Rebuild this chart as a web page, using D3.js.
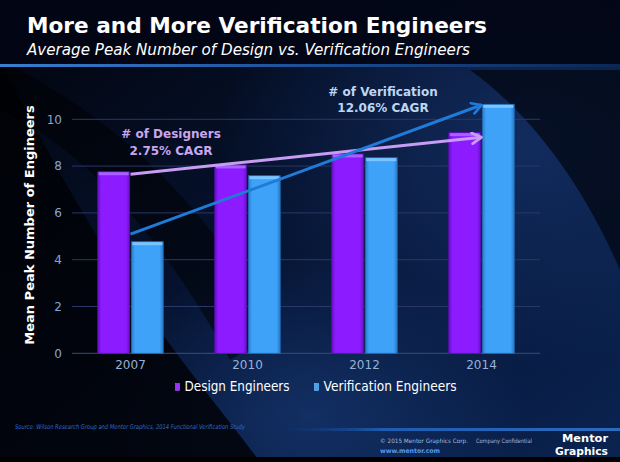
<!DOCTYPE html>
<html><head><meta charset="utf-8">
<script src="https://cdn.jsdelivr.net/npm/d3@7/dist/d3.min.js"></script>
<style>html,body{margin:0;padding:0;background:#02050f;}svg{display:block;}</style>
</head><body>
<script>
const years = ["2007", "2010", "2012", "2014"];
const seriesNames = ["Design Engineers", "Verification Engineers"];
const designValues = [7.76, 8.05, 8.52, 9.43];
const verificationValues = [4.77, 7.59, 8.36, 10.64];
const yTicks = [0, 2, 4, 6, 8, 10];
const designTrend = [7.65, 9.23];      // arrow start (2007) / end (2014)
const verificationTrend = [5.09, 10.61];
const designNote = ["# of Designers", "2.75% CAGR"];
const verificationNote = ["# of Verification", "12.06% CAGR"];

const W = 620, H = 462;
const svg = d3.select("body").append("svg").attr("width", W).attr("height", H);
const defs = svg.append("defs");

// background
const bg = defs.append("linearGradient").attr("id","bg").attr("x1",0).attr("y1",0).attr("x2",1).attr("y2",1);
bg.append("stop").attr("offset",0).attr("stop-color","#02040c");
bg.append("stop").attr("offset",0.55).attr("stop-color","#061535");
bg.append("stop").attr("offset",1).attr("stop-color","#0a2350");
svg.append("rect").attr("width",W).attr("height",H).attr("fill","url(#bg)");
const rg = defs.append("radialGradient").attr("id","glow").attr("cx",0.85).attr("cy",0.3).attr("r",0.5);
rg.append("stop").attr("offset",0).attr("stop-color","#1a3a78").attr("stop-opacity",0.6);
rg.append("stop").attr("offset",1).attr("stop-color","#1a3a78").attr("stop-opacity",0);
svg.append("rect").attr("width",W).attr("height",H).attr("fill","url(#glow)");
const rg2 = defs.append("radialGradient").attr("id","glow2").attr("cx",0.5).attr("cy",0.9).attr("r",0.35);
rg2.append("stop").attr("offset",0).attr("stop-color","#173873").attr("stop-opacity",0.7);
rg2.append("stop").attr("offset",1).attr("stop-color","#173873").attr("stop-opacity",0);
svg.append("rect").attr("width",W).attr("height",H).attr("fill","url(#glow2)");
// dark swooshes
svg.append("path").attr("d","M0,60 L0,462 L260,462 C200,380 120,300 0,60Z").attr("fill","#010207").attr("opacity",0.85);
svg.append("path").attr("d","M470,70 C540,120 590,200 620,270 L620,70Z").attr("fill","#01040d").attr("opacity",0.7);
svg.append("path").attr("d","M0,60 C120,120 200,200 280,330 L230,360 C170,250 90,150 0,110Z").attr("fill","#000000").attr("opacity",0.5);

// header
svg.append("rect").attr("x",0).attr("y",0).attr("width",W).attr("height",64).attr("fill","#020614").attr("opacity",0.9);
const hl = defs.append("linearGradient").attr("id","hl");
hl.append("stop").attr("offset",0).attr("stop-color","#3a7fd0");
hl.append("stop").attr("offset",0.5).attr("stop-color","#1c4f96");
hl.append("stop").attr("offset",1).attr("stop-color","#0b2755");
svg.append("rect").attr("x",0).attr("y",64).attr("width",W).attr("height",3).attr("fill","url(#hl)");
svg.append("text").attr("x",27).attr("y",33).text("More and More Verification Engineers")
  .attr("font-family","DejaVu Sans").attr("font-weight","bold").attr("font-size",22).attr("fill","#ffffff")
  .attr("textLength",460).attr("lengthAdjust","spacingAndGlyphs");
svg.append("text").attr("x",27).attr("y",55).text("Average Peak Number of Design vs. Verification Engineers")
  .attr("font-family","DejaVu Sans").attr("font-style","italic").attr("font-size",16).attr("fill","#ffffff")
  .attr("textLength",443).attr("lengthAdjust","spacingAndGlyphs");

// scales
const x0 = d3.scaleBand().domain(years).range([72,540]).paddingInner(0.44).paddingOuter(0.22);
const x1 = d3.scaleBand().domain(seriesNames).range([0,x0.bandwidth()]).paddingInner(0.05);
const y = d3.scaleLinear().domain([0,10]).range([353.3,119.3]);

// grid
const grid = svg.append("g");
grid.selectAll("line").data(yTicks).join("line")
  .attr("x1",72).attr("x2",540).attr("y1",d=>y(d)).attr("y2",d=>y(d))
  .attr("stroke",d=>d===0?"#3a4a80":"#2b3768").attr("stroke-width",1);
// y axis labels
const yAxis = d3.axisLeft(y).tickValues(yTicks).tickSize(0).tickPadding(0).tickFormat(d3.format("d"));
const ya = svg.append("g").attr("transform","translate(62,0)").call(yAxis);
ya.select(".domain").remove();
ya.selectAll("text").attr("font-family","DejaVu Sans").attr("font-size",12).attr("fill","#86a6d2");

// x axis labels
const xAxis = d3.axisBottom(x0).tickSize(0).tickPadding(0);
const xa = svg.append("g").attr("transform","translate(0,360)").call(xAxis);
xa.select(".domain").remove();
xa.selectAll("text").attr("font-family","DejaVu Sans").attr("font-size",12).attr("fill","#96b2da").attr("dy","0.75em");

// bar gradients
function barGrad(id, edge, mid){
  const g = defs.append("linearGradient").attr("id",id).attr("x1",0).attr("x2",1);
  g.append("stop").attr("offset",0).attr("stop-color",edge);
  g.append("stop").attr("offset",0.12).attr("stop-color",mid);
  g.append("stop").attr("offset",0.88).attr("stop-color",mid);
  g.append("stop").attr("offset",1).attr("stop-color",edge);
}
barGrad("gD","#6a10c8","#8c1cff");
barGrad("gV","#2a7cc8","#3ea2f8");
const colors = {"Design Engineers":{fill:"url(#gD)",top:"#a860ff",stroke:"#5a0eb0",leg:"#9a30ff"},
                "Verification Engineers":{fill:"url(#gV)",top:"#7cc4ff",stroke:"#2068b0",leg:"#3ea2f8"}};

const rows = [];
years.forEach((yr,i)=>{
  rows.push({year:yr, s:seriesNames[0], v:designValues[i]});
  rows.push({year:yr, s:seriesNames[1], v:verificationValues[i]});
});
const bars = svg.append("g");
bars.selectAll("rect.bar").data(rows).join("rect").attr("class","bar")
  .attr("x",d=>x0(d.year)+x1(d.s)).attr("width",x1.bandwidth())
  .attr("y",d=>y(d.v)).attr("height",d=>y(0)-y(d.v))
  .attr("fill",d=>colors[d.s].fill).attr("stroke",d=>colors[d.s].stroke).attr("stroke-width",0.8);
bars.selectAll("rect.top").data(rows).join("rect").attr("class","top")
  .attr("x",d=>x0(d.year)+x1(d.s)+1).attr("width",x1.bandwidth()-2)
  .attr("y",d=>y(d.v)+0.5).attr("height",3)
  .attr("fill",d=>colors[d.s].top);

// trend arrows
function marker(id,color){
  defs.append("marker").attr("id",id).attr("viewBox","0 0 10 10").attr("refX",8).attr("refY",5)
    .attr("markerWidth",4.5).attr("markerHeight",4.5).attr("orient","auto")
    .append("path").attr("d","M1,1 L8,5 L1,9").attr("fill","none").attr("stroke",color).attr("stroke-width",2).attr("stroke-linecap","round").attr("stroke-linejoin","round");
}
marker("mD","#c79cf2"); marker("mV","#1f7ad8");
const cx = yr => x0(yr) + x0.bandwidth()/2;
svg.append("line").attr("x1",cx(years[0])).attr("y1",y(designTrend[0])).attr("x2",cx(years[3])).attr("y2",y(designTrend[1]))
  .attr("stroke","#c79cf2").attr("stroke-width",3).attr("marker-end","url(#mD)");
svg.append("line").attr("x1",cx(years[0])).attr("y1",y(verificationTrend[0])).attr("x2",cx(years[3])).attr("y2",y(verificationTrend[1]))
  .attr("stroke","#1f7ad8").attr("stroke-width",3).attr("marker-end","url(#mV)");

// annotations
const ann = svg.append("g").attr("font-family","DejaVu Sans").attr("font-weight","bold").attr("font-size",12).attr("text-anchor","middle");
ann.selectAll("text.d").data(designNote).join("text").attr("class","d")
  .attr("x",171).attr("y",(d,i)=>138+i*17).attr("fill","#c9a6ee").text(d=>d);
ann.selectAll("text.v").data(verificationNote).join("text").attr("class","v")
  .attr("x",383).attr("y",(d,i)=>96+i*16).attr("fill","#bcd6f2").text(d=>d);

// y label
svg.append("text").attr("transform","translate(34,225) rotate(-90)").attr("text-anchor","middle")
  .attr("font-family","DejaVu Sans").attr("font-weight","bold").attr("font-size",13).attr("fill","#ffffff")
  .text("Mean Peak Number of Engineers");

// legend
const legX = [175.5, 314.5];
const leg = svg.append("g");
seriesNames.forEach((s,i)=>{
  leg.append("rect").attr("x",legX[i]).attr("y",383.5).attr("width",4).attr("height",7).attr("fill",colors[s].leg).attr("stroke",colors[s].top).attr("stroke-width",0.6);
  leg.append("text").attr("x",legX[i]+9).attr("y",391).text(s)
    .attr("font-family","DejaVu Sans").attr("font-size",14).attr("fill","#ffffff")
    .attr("textLength", i===0?105:133).attr("lengthAdjust","spacingAndGlyphs");
});

// footer
svg.append("text").attr("x",15).attr("y",429).text("Source:  Wilson Research Group and Mentor Graphics, 2014 Functional Verification Study")
  .attr("font-family","DejaVu Sans").attr("font-style","italic").attr("font-size",6.5).attr("fill","#2f6ccc")
  .attr("textLength",230).attr("lengthAdjust","spacingAndGlyphs");
const fl = defs.append("linearGradient").attr("id","fl");
fl.append("stop").attr("offset",0).attr("stop-color","#0d3a80").attr("stop-opacity",0);
fl.append("stop").attr("offset",0.3).attr("stop-color","#1d5cb0");
fl.append("stop").attr("offset",1).attr("stop-color","#2a6cc0");
svg.append("rect").attr("x",280).attr("y",428).attr("width",340).attr("height",3).attr("fill","url(#fl)");
svg.append("text").attr("x",380).attr("y",443).text("© 2015 Mentor Graphics Corp.")
  .attr("font-family","DejaVu Sans").attr("font-size",6).attr("fill","#aab8d8")
  .attr("textLength",88).attr("lengthAdjust","spacingAndGlyphs");
svg.append("text").attr("x",476).attr("y",443).text("Company Confidential")
  .attr("font-family","DejaVu Sans").attr("font-size",6).attr("fill","#aab8d8")
  .attr("textLength",56).attr("lengthAdjust","spacingAndGlyphs");
svg.append("text").attr("x",380).attr("y",453).text("www.mentor.com")
  .attr("font-family","DejaVu Sans").attr("font-weight","bold").attr("font-size",6.5).attr("fill","#5a9af0")
  .attr("textLength",60).attr("lengthAdjust","spacingAndGlyphs");
svg.append("text").attr("x",608).attr("y",442).attr("text-anchor","end").text("Mentor")
  .attr("font-family","DejaVu Sans").attr("font-weight","bold").attr("font-size",10.5).attr("fill","#ffffff")
  .attr("textLength",46).attr("lengthAdjust","spacingAndGlyphs");
svg.append("text").attr("x",608).attr("y",455).attr("text-anchor","end").text("Graphics")
  .attr("font-family","DejaVu Sans").attr("font-weight","bold").attr("font-size",10.5).attr("fill","#ffffff")
  .attr("textLength",53).attr("lengthAdjust","spacingAndGlyphs");
svg.append("rect").attr("x",0).attr("y",457).attr("width",W).attr("height",5).attr("fill","#000000");
</script>
</body></html>
